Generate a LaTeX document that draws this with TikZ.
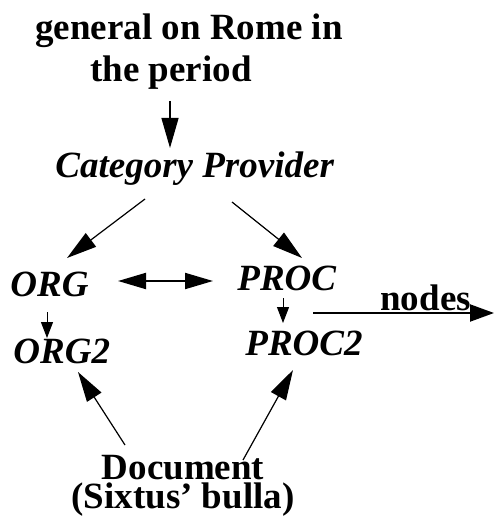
\documentclass[tikz,border=0pt]{standalone}
\usepackage{fontspec}
\setmainfont{Liberation Serif}
\usetikzlibrary{arrows.meta}
\begin{document}
\begin{tikzpicture}[x=0.5pt,y=-0.5pt,
  lbl/.style={inner sep=0pt, font=\fontsize{18.5}{21}\selectfont\bfseries},
  ital/.style={lbl, font=\fontsize{18.5}{21}\selectfont\bfseries\itshape},
  bigarr/.style={line width=0.6pt, -{Triangle[length=15pt,width=8.5pt]}},
  smallarr/.style={line width=0.5pt, -{Triangle[length=8pt,width=6pt]}},
  bothway/.style={line width=1pt, {Triangle[length=14pt,width=8pt]}-{Triangle[length=14pt,width=8pt]}},
  outarr/.style={line width=1pt, -{Triangle[length=12pt,width=8.5pt]}}]
\useasboundingbox (0,0) rectangle (494,518);
% labels
\node[lbl, align=left, anchor=base west] (title) at (35,82)
  {general on Rome in\\\hspace*{27.5pt}the period};
\node[ital, anchor=base west] (cp) at (55,177) {Category Provider};
\node[ital, anchor=base west] (org) at (10,296) {ORG};
\node[ital, anchor=base west] (proc) at (237,290) {PROC};
\node[ital, anchor=base west] (org2) at (13,363) {ORG2};
\node[ital, anchor=base west] (proc2) at (245,355) {PROC2};
\node[lbl, anchor=base west] (nodes) at (380,310) {nodes};
\node[lbl, align=center, anchor=base,
  font=\fontsize{18.5}{12.5}\selectfont\bfseries] (doc) at (183,508)
  {Document\\(Sixtus' bulla)};
\coordinate (outend) at (494,313);
% connectors
\draw[bigarr] ([shift={(135,19)}]title.base west) -- ([shift={(115,-29)}]cp.base west);
\draw[bigarr] ([shift={(90,22)}]cp.base west) -- ([shift={(57,-38)}]org.base west);
\draw[bigarr] ([shift={(177,25)}]cp.base west) -- ([shift={(65,-32)}]proc.base west);
\draw[bothway] ([shift={(108,-15)}]org.base west) -- ([shift={(-24,-9)}]proc.base west);
\draw[smallarr] ([shift={(37,16)}]org.base west) -- ([shift={(34,-25)}]org2.base west);
\draw[smallarr] ([shift={(46,8)}]proc.base west) -- ([shift={(38,-32)}]proc2.base west);
\draw[outarr] ([shift={(68,-42)}]proc2.base west) -- (outend);
\draw[bigarr] ([shift={(-58,-63)}]doc.base) -- ([shift={(65,9)}]org2.base west);
\draw[bigarr] ([shift={(60,-48)}]doc.base) -- ([shift={(48,15)}]proc2.base west);
\end{tikzpicture}
\end{document}
